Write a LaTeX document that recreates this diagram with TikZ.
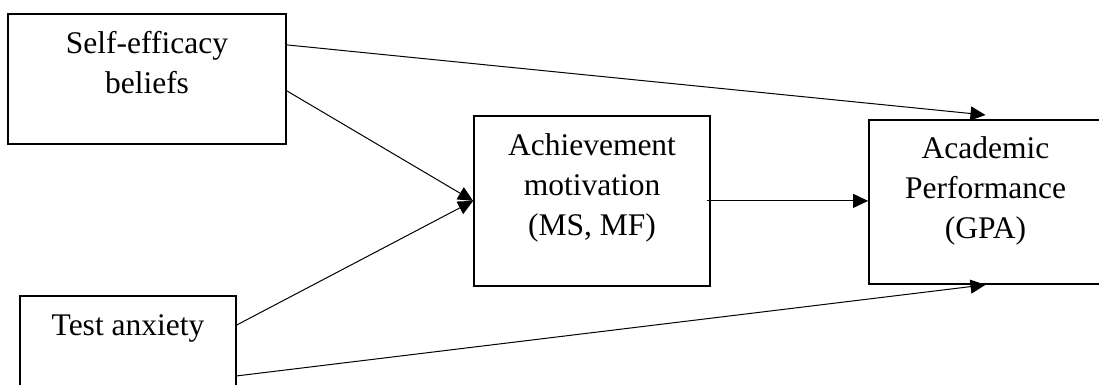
\documentclass[tikz,border=0pt]{standalone}
\usepackage{fontspec}
\setmainfont{Liberation Serif}
\usetikzlibrary{arrows.meta}

\begin{document}
\begin{tikzpicture}[x=1pt,y=-1pt,every node/.style={draw,line width=1.8pt,align=center,inner sep=0pt,anchor=north,font=\fontsize{31.5}{40}\selectfont},
  arr/.style={line width=1pt,-{Triangle[length=15pt,width=14pt]}}]
\useasboundingbox (0,0) rectangle (1099,385);
% boxes
\node[minimum width=278pt,text height=80pt,text depth=50pt] (self) at (147,13){Self-efficacy\\beliefs};
\node[minimum width=216pt,text height=40pt,text depth=60pt] (test) at (128,295){Test anxiety};
\node[minimum width=236pt,text height=120pt,text depth=50pt] (ach) at (592,115){Achievement\\motivation\\(MS, MF)};
\node[minimum width=233pt,text height=119pt,text depth=45pt] (acad) at (985.5,119){Academic\\Performance\\(GPA)};
% paths
\draw[arr] ([yshift=34pt]self.east)--([yshift=4pt]acad.north);
\draw[arr] ([yshift=-12pt]self.east)--(ach.west);
\draw[arr] ([yshift=21pt]test.east)--(ach.west);
\draw[arr] ([xshift=-4pt]ach.east)--(acad.west |- ach.east);
\draw[arr] ([yshift=-30pt]test.east)--(acad.south);
\end{tikzpicture}
\end{document}
